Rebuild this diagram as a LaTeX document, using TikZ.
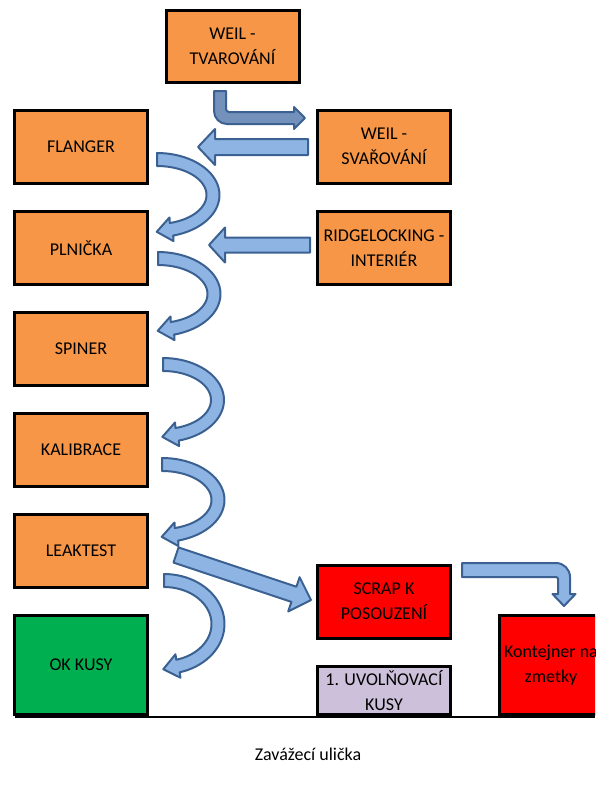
\documentclass[tikz,border=0pt]{standalone}
\usepackage{fontspec}
\setmainfont{Carlito}
\definecolor{boxorange}{HTML}{F79646}
\definecolor{boxgreen}{HTML}{00B050}
\definecolor{boxred}{HTML}{FF0000}
\definecolor{boxlilac}{HTML}{CCC0DA}
\definecolor{arrfill}{HTML}{8EB4E3}
\definecolor{arrdark}{HTML}{7391BB}
\definecolor{arrline}{HTML}{3B6192}
\tikzset{
  proc/.style={draw=black, line width=3pt, fill=boxorange, minimum width=133pt,
    minimum height=73pt, inner sep=0pt, align=center, font=\fontsize{18}{25}\selectfont},
  blockarrow/.style={fill=arrfill, draw=arrline, line width=2pt, line join=round},
  plaintext/.style={inner sep=0pt, font=\fontsize{18}{25}\selectfont}
}
\newcommand{\blockcurve}[4]{%
  \pgfmathsetmacro{\bcBx}{#1+#3*cos(75)}%
  \pgfmathsetmacro{\bcBy}{#2+#4*sin(75)}%
  \pgfmathsetmacro{\bcTx}{-#3*sin(75)}%
  \pgfmathsetmacro{\bcTy}{#4*cos(75)}%
  \pgfmathsetmacro{\bcTn}{sqrt(\bcTx*\bcTx+\bcTy*\bcTy)}%
  \pgfmathsetmacro{\bcUx}{\bcTx/\bcTn}%
  \pgfmathsetmacro{\bcUy}{\bcTy/\bcTn}%
  \draw[blockarrow] plot[domain=-90:75,samples=40] ({#1+(#3+6.5)*cos(\x)},{#2+(#4+6.5)*sin(\x)})
    -- ({\bcBx+12*\bcUy},{\bcBy-12*\bcUx})
    -- ({\bcBx+15*\bcUx},{\bcBy+15*\bcUy})
    -- ({\bcBx-12*\bcUy},{\bcBy+12*\bcUx})
    -- plot[domain=75:-90,samples=40] ({#1+(#3-6.5)*cos(\x)},{#2+(#4-6.5)*sin(\x)})
    -- cycle;
}
\begin{document}
\begin{tikzpicture}[x=1pt,y=-1pt]
\useasboundingbox (0,0) rectangle (595,787);
\clip (0,0) rectangle (595,787);

% boxes
\node[proc, minimum height=72pt] (tvar) at (232.5,46) {WEIL -\\TVAROVÁNÍ};
\node[proc] (flanger) at (81,147) {FLANGER};
\node[proc] (svar) at (384,146.5) {WEIL -\\SVAŘOVÁNÍ};
\node[proc] (plnicka) at (81,248) {PLNIČKA};
\node[proc] (ridge) at (384,248) {RIDGELOCKING -\\INTERIÉR};
\node[proc] (spiner) at (81,349) {SPINER};
\node[proc] (kalib) at (81,450) {KALIBRACE};
\node[proc] (leak) at (81,550.5) {LEAKTEST};
\node[proc, fill=boxred] (scrap) at (384,601.5) {SCRAP K\\POSOUZENÍ};
\node[proc, fill=boxgreen, minimum height=99pt] (ok) at (81,665) {OK KUSY};
\node[proc, fill=boxlilac, minimum height=48pt] (uvol) at (384,690.5) {1. UVOLŇOVACÍ\\KUSY};
\node[proc, fill=boxred, minimum width=103pt, minimum height=99pt] (kont) at (551,665) {Kontejner na\\zmetky};

% ground line and label
\coordinate (g1) at (15,717);
\coordinate (g2) at (595,717);
\draw[line width=2pt] (g1) -- (g2);
\node[plaintext] (ulicka) at (308,754) {Zavážecí ulička};

% L-shaped arrow from WEIL - TVAROVANI to WEIL - SVAROVANI
\draw[blockarrow, fill=arrdark] (214,91) -- (214,111)
  .. controls (214,118.2) and (219.8,124) .. (227,124)
  -- (294,124) -- (294,129) -- (305,118) -- (294,107) -- (294,112)
  -- (229,112) .. controls (227.3,112) and (226,110.3) .. (226,109)
  -- (226,91) -- cycle;

% straight arrows
\draw[blockarrow] (308,139) -- (215,139) -- (215,129) -- (198,147)
  -- (215,165) -- (215,155) -- (308,155) -- cycle;
\draw[blockarrow] (310,237.5) -- (225,237.5) -- (225,227.5) -- (209,245)
  -- (225,262.5) -- (225,252.5) -- (310,252.5) -- cycle;

% curved arrows between stations
\blockcurve{157}{195}{56}{35.5}
\blockcurve{158}{294}{56}{35.5}
\blockcurve{163}{400}{54.5}{35.5}
\blockcurve{162}{500}{56}{35.5}
\blockcurve{164}{624}{54}{43.5}

% diagonal arrow LEAKTEST -> SCRAP
\draw[blockarrow] (178.5,547.4) -- (296.4,586.7) -- (299.6,577.2) -- (311,600)
  -- (288.2,611.4) -- (291.4,601.9) -- (173.5,562.6) -- cycle;

% arrow SCRAP -> Kontejner
\draw[blockarrow] (462,563) -- (556,563)
  .. controls (563.7,563) and (570,569.3) .. (570,577)
  -- (570,594) -- (575.5,594) -- (564,606) -- (552.5,594) -- (558,594)
  -- (558,579) .. controls (558,577.9) and (557.1,577) .. (556,577)
  -- (462,577) -- cycle;
\end{tikzpicture}
\end{document}
